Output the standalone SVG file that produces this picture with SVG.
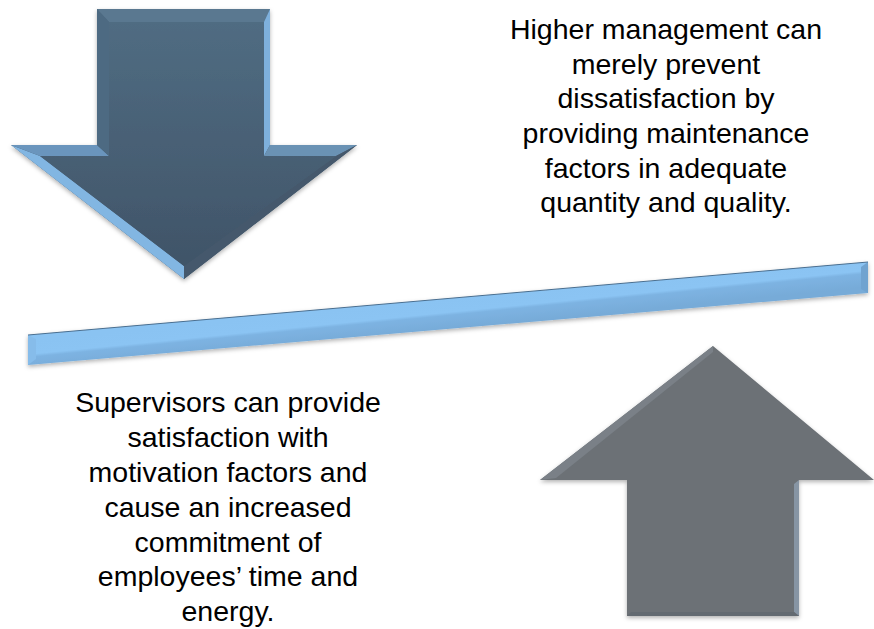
<svg xmlns="http://www.w3.org/2000/svg" width="874" height="629" viewBox="0 0 874 629">
  <defs>
    <linearGradient id="downFill" x1="0" y1="0" x2="0" y2="1">
      <stop offset="0" stop-color="#506c82"/>
      <stop offset="1" stop-color="#405468"/>
    </linearGradient>
    <linearGradient id="barFill" gradientUnits="userSpaceOnUse" x1="445" y1="299" x2="448" y2="329">
      <stop offset="0" stop-color="#8ac3f2"/>
      <stop offset="0.45" stop-color="#8bc4f3"/>
      <stop offset="0.55" stop-color="#7db3e2"/>
      <stop offset="1" stop-color="#77abd8"/>
    </linearGradient>
    <filter id="shadow" x="-10%" y="-10%" width="120%" height="130%">
      <feDropShadow dx="0" dy="2" stdDeviation="2" flood-color="#000" flood-opacity="0.3"/>
    </filter>
    <style>
      .txt { font-family: "Liberation Sans", Arial, sans-serif; font-size: 28.5px; fill: #000; text-anchor: middle; }
    </style>
  </defs>
  <rect width="874" height="629" fill="#fff"/>

  <g id="arrow-down" filter="url(#shadow)">
    <polygon points="97,9 270,9 270,145 357,145 184,279 11,145 97,145" fill="url(#downFill)"/>
    <polygon points="97,9 270,9 264,22 109,22" fill="#5a7890"/>
    <polygon points="270,9 270,145 264,156 264,22" fill="#7eb0dc"/>
    <polygon points="270,145 357,145 336,156 264,156" fill="#6b92b4"/>
    <polygon points="357,145 184,279 184,266 336,156" fill="#45596c"/>
    <polygon points="184,279 11,145 40,156 184,266" fill="#82b6e2"/>
    <polygon points="11,145 97,145 109,156 40,156" fill="#6a95bd"/>
    <polygon points="97,145 97,9 109,22 109,156" fill="#4d6a82"/>
    <polygon points="109,22 264,22 264,156 336,156 184,266 40,156 109,156" fill="url(#downFill)"/>
  </g>

  <g id="arrow-up" filter="url(#shadow)">
    <polygon points="713,346 874,480 799,480 799,616 627,616 627,480 540,480" fill="#6c7176"/>
    <polygon points="713,346 540,480 556,478 713,352" fill="#7a8087"/>
    <polygon points="794,484 799,480 799,616 794,612" fill="#8795a4"/>
    <polygon points="627,616 799,616 794,612 631,612" fill="#646a71"/>
  </g>

  <g id="bar" filter="url(#shadow)">
    <polygon points="28,335 868,262 868,293 28,365" fill="url(#barFill)"/>
    <polygon points="28,335 36,339 36,359 28,365" fill="#86bcea"/>
    <polygon points="868,262 861,267 861,289 868,293" fill="#6fa3d0"/>
    <line x1="28" y1="335" x2="868" y2="262" stroke="#4a6f90" stroke-width="1"/>
  </g>

  <g id="text-top">
    <text class="txt" x="666" y="39">Higher management can</text>
    <text class="txt" x="666" y="74">merely prevent</text>
    <text class="txt" x="666" y="108">dissatisfaction by</text>
    <text class="txt" x="666" y="143">providing maintenance</text>
    <text class="txt" x="666" y="178">factors in adequate</text>
    <text class="txt" x="666" y="212">quantity and quality.</text>
  </g>

  <g id="text-bottom">
    <text class="txt" x="228" y="412">Supervisors can provide</text>
    <text class="txt" x="228" y="447">satisfaction with</text>
    <text class="txt" x="228" y="482">motivation factors and</text>
    <text class="txt" x="228" y="517">cause an increased</text>
    <text class="txt" x="228" y="552">commitment of</text>
    <text class="txt" x="228" y="586">employees’ time and</text>
    <text class="txt" x="228" y="621">energy.</text>
  </g>
</svg>
